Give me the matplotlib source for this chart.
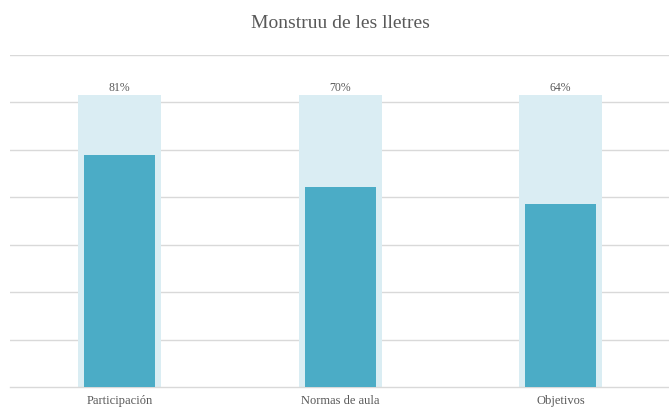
import matplotlib.pyplot as plt
import numpy as np

plt.rcParams["font.family"] = ["Liberation Serif", "DejaVu Serif"]

# Data
categories = ["Participación", "Normas de aula", "Objetivos"]
values = [0.81, 0.70, 0.64]
value_labels = ["81%", "70%", "64%"]
background = [1.02, 1.02, 1.02]

BG_COLOR = "#DAEDF3"
FG_COLOR = "#4BACC6"
GRID_COLOR = "#D9D9D9"
TEXT_COLOR = "#595959"

fig = plt.figure(figsize=(6.69, 4.09), dpi=100)
ax = fig.add_axes([9.5 / 669, 1 - 387 / 409, 661.5 / 669, 332.3 / 409])

x = np.arange(len(categories))
step = 1 / 6.03
ax.set_xlim(-0.5, len(categories) - 0.5)
ax.set_ylim(0, 7 * step)

ax.bar(x, background, width=0.376, color=BG_COLOR, zorder=2)
ax.bar(x, values, width=0.32, color=FG_COLOR, zorder=3)

for xi, b, lab in zip(x, background, value_labels):
    ax.text(xi, b + 0.004, lab, ha="center", va="bottom", fontsize=8.5,
            color=TEXT_COLOR, zorder=4)

ax.set_yticks(np.arange(1, 8) * step)
ax.yaxis.grid(True, color=GRID_COLOR, linewidth=1.0, zorder=0)
ax.set_axisbelow(True)
ax.tick_params(axis="y", left=False, labelleft=False)
ax.tick_params(axis="x", bottom=False, labelsize=9, labelcolor=TEXT_COLOR, pad=2.5)
ax.set_xticks(x)
ax.set_xticklabels(categories)

for side in ["top", "right", "left"]:
    ax.spines[side].set_visible(False)
ax.spines["bottom"].set_color(GRID_COLOR)
ax.spines["bottom"].set_linewidth(1.0)

fig.text(340 / 669, 1 - 24 / 409, "Monstruu de les lletres", ha="center", va="center",
         fontsize=14, color=TEXT_COLOR)

fig.savefig("out.png", dpi=100)
